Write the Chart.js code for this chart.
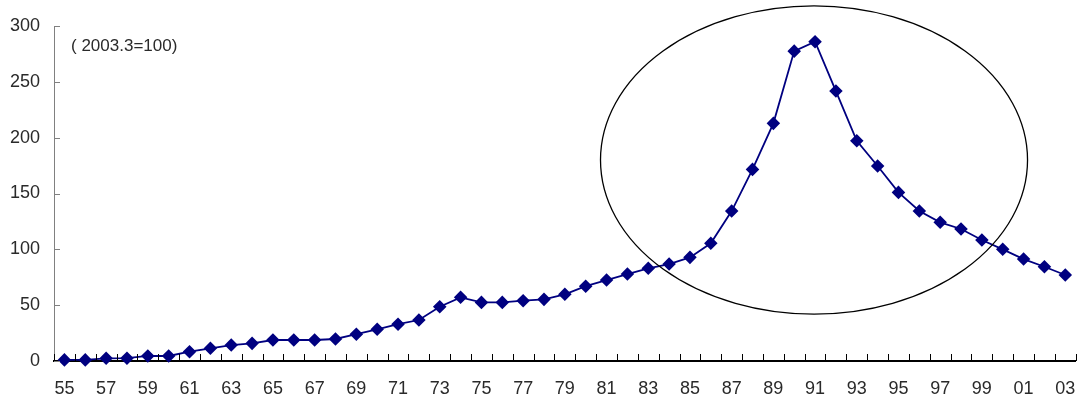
<!DOCTYPE html>
<html>
<head>
<meta charset="utf-8">
<script src="https://cdn.jsdelivr.net/npm/chart.js@4.4.1/dist/chart.umd.min.js"></script>
<style>
  html, body { margin: 0; padding: 0; background: #ffffff; }
  #wrap { position: relative; width: 1083px; height: 403px; }
</style>
</head>
<body>
<div id="wrap"><canvas id="c" width="1083" height="403"></canvas></div>
<script>
// Land price index, 1955-2003 (2003.3 = 100)
const years = ['55','56','57','58','59','60','61','62','63','64','65','66','67','68','69','70','71','72','73','74','75','76','77','78','79','80','81','82','83','84','85','86','87','88','89','90','91','92','93','94','95','96','97','98','99','00','01','02','03'];
const indexValues = [1, 1, 2.4, 2.5, 4.5, 4.5, 8.3, 11.4, 14.3, 15.8, 18.8, 18.8, 18.8, 19.7, 24, 28.4, 33, 36.7, 48.6, 57, 52.5, 52.5, 54, 55.2, 59.7, 67, 72.5, 77.9, 83, 86.8, 92.8, 105.4, 134.3, 171.6, 212.8, 277.5, 285.9, 241.7, 197.2, 174.6, 151, 134.3, 124.2, 118.2, 108.3, 100, 91.3, 84.4, 77];
const yTicks = [0, 50, 100, 150, 200, 250, 300];
const baseNote = '( 2003.3=100)';

// Highlight ellipse around the bubble peak, in data units (category index, index value)
const ringCenter = [35.95, 180];
const ringRadius = [10.24, 138];

const labelFont = { family: "'Liberation Sans', Arial, sans-serif", size: 18 };

const decorations = {
  id: 'decorations',
  afterDraw(chart) {
    const ctx = chart.ctx;
    const x = chart.scales.x, y = chart.scales.y;
    const top = chart.chartArea.top, bottom = chart.chartArea.bottom, left = chart.chartArea.left;
    ctx.save();
    // inward tick marks on the category axis, between categories
    ctx.strokeStyle = '#000000';
    ctx.lineWidth = 1;
    ctx.beginPath();
    for (let i = 0; i <= years.length; i++) {
      const px = Math.round(x.getPixelForValue(i - 0.5)) + 0.5;
      ctx.moveTo(px, bottom);
      ctx.lineTo(px, bottom - 7);
    }
    ctx.stroke();
    // inward tick marks on the value axis
    ctx.strokeStyle = '#808080';
    ctx.beginPath();
    yTicks.forEach(v => {
      const py = Math.round(y.getPixelForValue(v)) + 0.5;
      ctx.moveTo(left, py);
      ctx.lineTo(left + 6, py);
    });
    ctx.stroke();
    // base note
    ctx.fillStyle = '#2a2a2a';
    ctx.font = "17px 'Liberation Sans', Arial, sans-serif";
    ctx.textBaseline = 'middle';
    ctx.textAlign = 'left';
    ctx.fillText(baseNote, left + 17, top + 20);
    // ellipse
    const cx = x.getPixelForValue(ringCenter[0]);
    const cy = y.getPixelForValue(ringCenter[1]);
    const rx = x.getPixelForValue(ringCenter[0] + ringRadius[0]) - cx;
    const ry = y.getPixelForValue(ringCenter[1] - ringRadius[1]) - cy;
    ctx.strokeStyle = '#000000';
    ctx.lineWidth = 1.3;
    ctx.beginPath();
    ctx.ellipse(cx, cy, rx, ry, 0, 0, Math.PI * 2);
    ctx.stroke();
    ctx.restore();
  }
};

new Chart(document.getElementById('c'), {
  type: 'line',
  data: {
    labels: years,
    datasets: [{
      data: indexValues,
      borderColor: '#000080',
      backgroundColor: '#000080',
      borderWidth: 1.8,
      pointStyle: 'rectRot',
      pointRadius: 5.5,
      pointHoverRadius: 5.5,
      tension: 0,
      clip: false
    }]
  },
  options: {
    responsive: false,
    animation: false,
    events: [],
    layout: { padding: { top: 26, right: 6, left: 0, bottom: 0 } },
    plugins: { legend: { display: false }, tooltip: { enabled: false } },
    scales: {
      x: {
        type: 'category',
        offset: true,
        grid: { display: false, drawTicks: true, tickLength: 17 },
        border: { display: true, color: '#000000', width: 2 },
        ticks: {
          autoSkip: false,
          maxRotation: 0,
          padding: 0,
          color: '#2a2a2a',
          font: labelFont,
          callback: (v, i) => (i % 2 === 0 ? years[i] : '')
        },
        afterFit: s => { s.height = 42; }
      },
      y: {
        min: 0,
        max: 300,
        afterBuildTicks: s => { s.ticks = yTicks.map(v => ({ value: v })); },
        grid: { display: false, drawTicks: false },
        border: { display: true, color: '#808080', width: 1 },
        ticks: { padding: 14, color: '#2a2a2a', font: labelFont },
        afterFit: s => { s.width = 54; }
      }
    }
  },
  plugins: [decorations]
});
</script>
</body>
</html>
